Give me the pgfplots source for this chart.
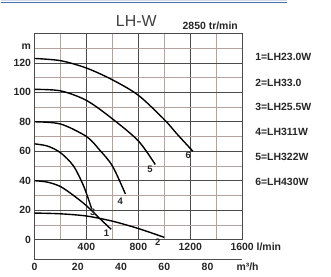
\documentclass[border=0pt]{standalone}
\usepackage{pgfplots}
\pgfplotsset{compat=1.18}
\usepackage{fontspec}
\setmainfont{Liberation Sans}
\definecolor{majg}{RGB}{75,75,75}
\definecolor{ming}{RGB}{180,162,158}
\definecolor{topblue}{RGB}{70,115,170}
\begin{document}
\begin{tikzpicture}
\begin{axis}[
  at={(0,0)}, anchor=south west,
  scale only axis, width=208bp, height=206.5bp,
  xmin=0, xmax=1600, ymin=0, ymax=140,
  xtick={400,800,1200,1600},
  xticklabels={400,800,1200,{1600\rlap{ l/min}}},
  minor xtick={200,600,1000,1400},
  ytick={0,20,...,120},
  minor ytick={10,30,...,130},
  extra y ticks={131}, extra y tick labels={m},
  extra y tick style={grid=none},
  grid=both,
  major grid style={majg, line width=0.7pt},
  minor grid style={ming, line width=0.6pt},
  major tick length=0pt, minor tick length=0pt,
  axis line style={majg, line width=0.8pt},
  tick label style={font=\fontsize{10.5}{12}\selectfont\bfseries, text=black!85},
  /pgf/number format/assume math mode=true,
  clip=false,
]
\addplot[smooth, black, line width=1.4pt] coordinates {(0,123)(200,121.5)(400,116.5)(600,108.5)(800,98)(1000,81.5)(1100,71.5)(1220,60)};
\addplot[smooth, black, line width=1.4pt] coordinates {(0,102)(200,101)(400,94.5)(600,82)(800,67)(930,51)};
\addplot[smooth, black, line width=1.4pt] coordinates {(0,80)(200,78.5)(400,70)(500,61)(600,50)(700,31)};
\addplot[smooth, black, line width=1.4pt] coordinates {(0,65)(100,63.5)(200,59)(300,50)(380,36)(440,21)};
\addplot[smooth, black, line width=1.4pt] coordinates {(0,40)(100,39)(200,36)(300,30)(400,23)(500,14.5)(590,7)};
\addplot[smooth, black, line width=1.4pt] coordinates {(0,18)(200,17.5)(400,16)(600,12.5)(800,7.5)(1000,1.5)};
\begin{scope}[every node/.style={font=\fontsize{9.5}{10}\selectfont\bfseries, text=black!85, inner sep=0pt}]
\node at (axis cs:555,4) {1};
\node at (axis cs:950,-2) {2};
\node at (axis cs:448,18.5) {3};
\node at (axis cs:660,26) {4};
\node at (axis cs:890,47.5) {5};
\node at (axis cs:1185,57.5) {6};
\end{scope}
\begin{scope}[every node/.style={font=\fontsize{10.5}{12}\selectfont\bfseries, text=black!85, anchor=west, inner sep=0pt}]
\node at (axis cs:1700,124) {1=LH23.0W};
\node at (axis cs:1700,106.4) {2=LH33.0};
\node at (axis cs:1700,90.2) {3=LH25.5W};
\node at (axis cs:1700,73.2) {4=LH311W};
\node at (axis cs:1700,56.3) {5=LH322W};
\node at (axis cs:1700,39.3) {6=LH430W};
\end{scope}
\node[anchor=base east, inner sep=0pt, font=\fontsize{10.5}{12}\selectfont\bfseries, text=black!85] at (rel axis cs:0.98,1.018) {2850 tr/min};
\node[anchor=base, inner sep=0pt, font=\fontsize{16}{18}\selectfont, text=black!75] at (rel axis cs:0.49,1.036) {LH-W};
\end{axis}
\begin{axis}[
  at={(0,-20bp)}, anchor=south west,
  scale only axis, width=208bp, height=20bp,
  xmin=0, xmax=96, ymin=0, ymax=1,
  axis x line*=bottom, axis y line*=left,
  ytick=\empty,
  xtick={0,20,40,60,80},
  major tick length=0pt,
  axis line style={majg, line width=0.8pt},
  tick label style={font=\fontsize{10.5}{12}\selectfont\bfseries, text=black!85},
  /pgf/number format/assume math mode=true,
  clip=false,
]
\node[anchor=north, inner sep=0.333em, font=\fontsize{10.5}{12}\selectfont\bfseries, text=black!85] at (axis cs:98.5,0) {m³/h};
\end{axis}
\fill[topblue!25] (-34bp,239bp) rectangle (253bp,240bp);
\draw[topblue, line width=1.2bp] (-34bp,237.8bp) -- (253bp,237.8bp);
\path (-34bp,-37bp) rectangle (297bp,240bp);
\end{tikzpicture}
\end{document}
